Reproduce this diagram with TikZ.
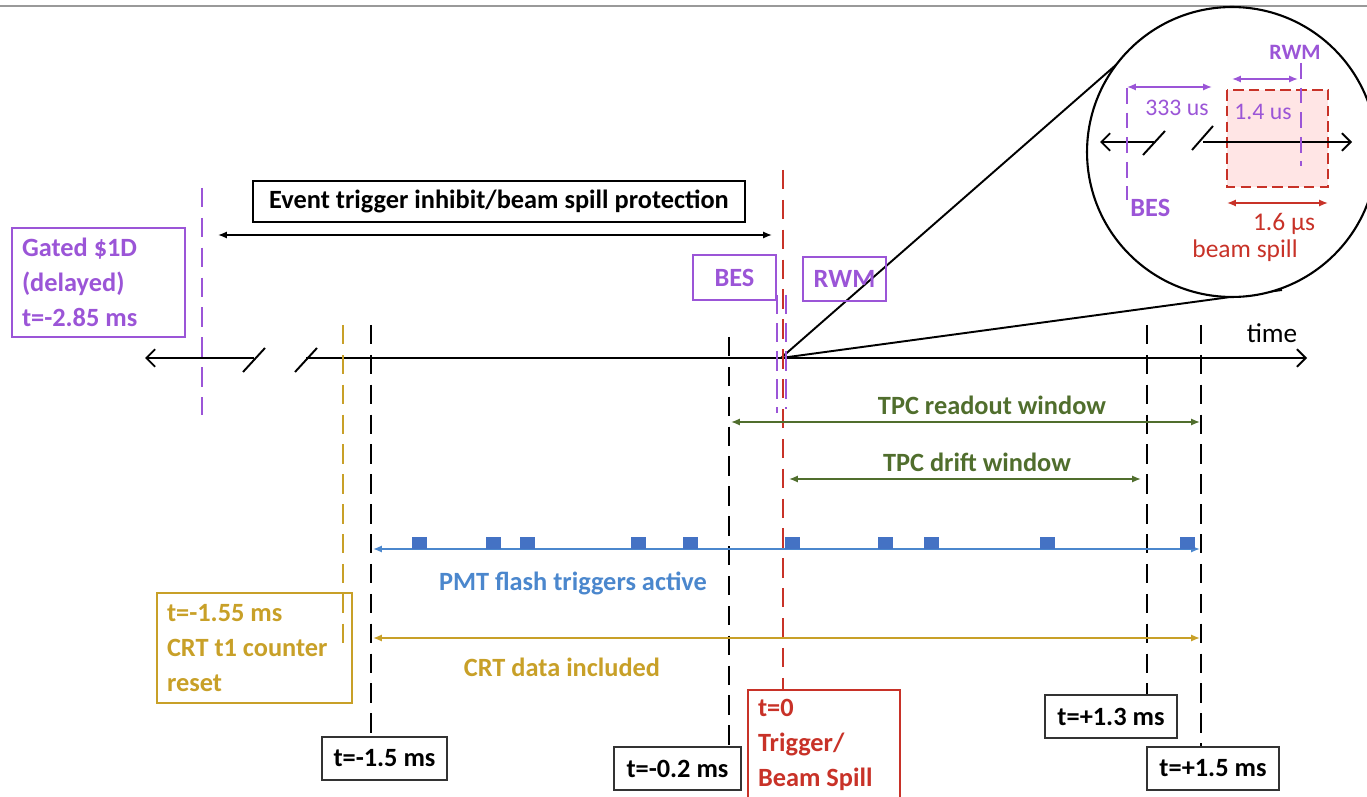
\documentclass[tikz,border=0pt]{standalone}
\usepackage{fontspec}
\setmainfont{Carlito}
\usetikzlibrary{arrows.meta}
\definecolor{vio}{RGB}{155,85,215}
\definecolor{rd}{RGB}{200,50,40}
\definecolor{gold}{RGB}{200,160,40}
\definecolor{grn}{RGB}{80,110,45}
\definecolor{blu}{RGB}{75,135,205}
\definecolor{sq}{RGB}{68,114,196}
\begin{document}
\begin{tikzpicture}[x=0.02cm,y=-0.02cm,
  lbl/.style={font=\bfseries\fontsize{15}{19.8}\selectfont},
  box/.style={draw,line width=1.1pt,inner sep=0pt,lbl},
  lbox/.style={box,align=flush left,inner xsep=0.2cm},
  tbox/.style={draw=black!80,line width=0.8pt,inner sep=0pt,lbl,minimum width=2.5cm,minimum height=0.86cm},
  vdash/.style={line width=1.3pt,dash pattern=on 11pt off 6pt},
  axis/.style={line width=1.1pt},
  dbl/.style={line width=0.9pt,{Latex[length=5pt,width=4pt]}-{Latex[length=5pt,width=4pt]}},
  chev/.style={{Straight Barb[length=5pt,width=10pt]}-},
  small/.style={font=\fontsize{13.5}{15}\selectfont},
  sqr/.style={fill=sq,draw=none}
]
\useasboundingbox (0,0) rectangle (1367,797);
% top gray rule
\draw[gray!80,line width=1.2pt] (0,6) -- (1367,6);

% ---- main time axis
\coordinate (axL) at (145,358);
\coordinate (s1) at (254,358);
\coordinate (s2) at (306,358);
\coordinate (axR) at (1307,358);
\coordinate (z0) at (781,358);
\draw[axis,chev] (axL) -- (s1);
\draw[axis,-{Straight Barb[length=5pt,width=10pt]}] (s2) -- (axR);
\draw[axis] (243,372) -- (265,348);
\draw[axis] (295,372) -- (317,348);
\node[font=\fontsize{15.5}{17}\selectfont] (time) at (1272,333) {time};

% ---- zoom lines and circle
\coordinate (cc) at (1232,152);
\coordinate (zt) at (1117,64);
\coordinate (zb) at (1282,290);
\draw[line width=1.1pt] (z0) -- (zt);
\draw[line width=1.1pt] (z0) -- (zb);
\draw[line width=1.2pt,fill=white] (cc) circle[radius=2.9cm];

% inside circle
\fill[red!10] (1227,90) rectangle (1328,187);
\draw[rd,line width=1.3pt,dash pattern=on 6pt off 3pt] (1227,90) rectangle (1328,187);
\coordinate (iL) at (1100,142);
\coordinate (is1) at (1154,142);
\coordinate (is2) at (1203,142);
\coordinate (iR) at (1352,142);
\draw[axis,chev] (iL) -- (is1);
\draw[axis,-{Straight Barb[length=5pt,width=10pt]}] (is2) -- (iR);
\draw[axis] (1143,155) -- (1165,131);
\draw[axis] (1192,150) -- (1213,126);
\draw[vio,line width=1.3pt,dash pattern=on 9pt off 5pt] (1127,88) -- (1127,200);
\node[vio,font=\bfseries\fontsize{15}{17}\selectfont,anchor=west,inner sep=0pt] (ibes) at (1130,208) {BES};
\draw[vio,line width=1.3pt,dash pattern=on 9pt off 5pt] (1301,63) -- (1301,166);
\node[vio,font=\bfseries\fontsize{12.5}{14}\selectfont] (irwm) at (1295,52) {RWM};
\draw[vio,dbl,line width=0.9pt] (1127,87) -- (1212,87);
\node[vio,small] (l333) at (1177,108) {333 us};
\draw[vio,dbl] (1232,79) -- (1298,79);
\node[vio,small] (l14) at (1263,112) {1.4 us};
\draw[rd,dbl] (1227,203) -- (1328,203);
\node[rd,font=\fontsize{14.5}{16}\selectfont,inner sep=0pt] (l16) at (1284,224) {1.6 μs};
\node[rd,font=\fontsize{14.5}{16}\selectfont,inner sep=0pt] (lbs) at (1245,251) {beam spill};

% ---- boxes
\node[lbox,vio,text width=3.06cm,minimum height=2.18cm] (gated) at (98.5,282.5) {Gated \$1D\\(delayed)\\t=-2.85 ms};
\node[box,minimum width=9.84cm,minimum height=0.82cm] (event) at (499,201.5) {Event trigger inhibit/beam spill protection};
\node[box,vio,minimum width=1.66cm,minimum height=0.9cm] (bes) at (734.5,277.5) {BES};
\node[box,vio,minimum width=1.66cm,minimum height=0.88cm] (rwm) at (844.5,279) {RWM};
\node[lbox,gold,text width=3.5cm,minimum height=2.2cm] (crt) at (254.5,648) {t=-1.55 ms\\CRT t1 counter\\reset};
\node[tbox] (tm15) at (384.5,758.5) {t=-1.5 ms};
\node[tbox,minimum width=2.54cm] (tm02) at (677.5,768.5) {t=-0.2 ms};
\node[lbox,rd,text width=2.64cm,minimum height=2.2cm] (t0) at (824,745) {t=0\\Trigger/\\Beam Spill};
\node[tbox,minimum width=2.64cm] (tp13) at (1111,716.5) {t=+1.3 ms};
\node[tbox,minimum width=2.64cm] (tp15) at (1213,768.5) {t=+1.5 ms};

% ---- vertical lines
\draw[vio,vdash] (202,188) -- (202,415);
\draw[gold,vdash] (343,325) -- (343,647);
\draw[vdash] (371,325) -- (371,325 |- tm15.north);
\draw[vdash] (729,337) -- (729,337 |- tm02.north);
\draw[vdash] (1147,325) -- (1147,325 |- tp13.north);
\draw[vdash] (1201,325) -- (1201,325 |- tp15.north);
\draw[rd,line width=1.3pt,dash pattern=on 11pt off 6pt] (783,170) -- (783,170 |- t0.north);
\draw[vio,line width=1.5pt,dash pattern=on 11pt off 5pt] (777,295) -- (777,413);
\draw[vio,line width=1.5pt,dash pattern=on 11pt off 5pt] (786,295) -- (786,409);

% ---- horizontal ranges
\draw[dbl] (218,235) -- (772,235);
\draw[grn,dbl] (731,422) -- (1200,422);
\node[lbl,grn] (ro) at (992,405) {TPC readout window};
\draw[grn,dbl] (789,479) -- (1141,479);
\node[lbl,grn] (dr) at (977,462) {TPC drift window};
\draw[blu,dbl] (373,549) -- (1200,549);
\node[lbl,blu] (pmt) at (573,583) {PMT flash triggers active};
\draw[gold,dbl] (373,638) -- (1200,638);
\node[lbl,gold] (crtd) at (562,667) {CRT data included};

% ---- PMT flash squares
\foreach \cx in {419,493,527,638,690,792,885,931,1047,1187}
  \fill[sqr] (\cx-7.5,537) rectangle (\cx+7.5,549);
\end{tikzpicture}
\end{document}
